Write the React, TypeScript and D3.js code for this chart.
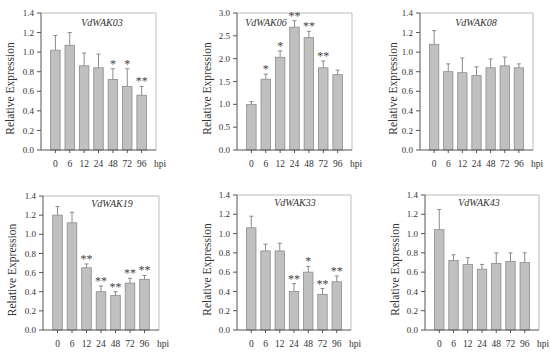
import React from 'react';
import * as d3 from 'd3';

const hpi = ['0', '6', '12', '24', '48', '72', '96'];

const genes = ['VdWAK03', 'VdWAK06', 'VdWAK08', 'VdWAK19', 'VdWAK33', 'VdWAK43'];

const wak03 = [1.02, 1.07, 0.86, 0.84, 0.72, 0.65, 0.56];
const wak03Err = [0.15, 0.13, 0.13, 0.14, 0.11, 0.18, 0.09];
const wak03Sig = ['', '', '', '', '*', '*', '**'];

const wak06 = [1.0, 1.55, 2.03, 2.69, 2.46, 1.8, 1.65];
const wak06Err = [0.06, 0.11, 0.14, 0.14, 0.14, 0.15, 0.1];
const wak06Sig = ['', '*', '*', '**', '**', '**', ''];

const wak08 = [1.08, 0.8, 0.79, 0.76, 0.84, 0.86, 0.84];
const wak08Err = [0.14, 0.08, 0.15, 0.09, 0.09, 0.09, 0.04];
const wak08Sig = ['', '', '', '', '', '', ''];

const wak19 = [1.2, 1.12, 0.65, 0.4, 0.36, 0.49, 0.53];
const wak19Err = [0.09, 0.11, 0.04, 0.06, 0.04, 0.05, 0.04];
const wak19Sig = ['', '', '**', '**', '**', '**', '**'];

const wak33 = [1.06, 0.82, 0.82, 0.4, 0.6, 0.37, 0.5];
const wak33Err = [0.12, 0.07, 0.08, 0.08, 0.06, 0.06, 0.06];
const wak33Sig = ['', '', '', '**', '*', '**', '**'];

const wak43 = [1.04, 0.72, 0.68, 0.63, 0.69, 0.71, 0.7];
const wak43Err = [0.21, 0.06, 0.07, 0.05, 0.11, 0.09, 0.1];
const wak43Sig = ['', '', '', '', '', '', ''];

const yTicksLow = [0, 0.2, 0.4, 0.6, 0.8, 1.0, 1.2, 1.4];
const yTicksHigh = [0, 0.5, 1.0, 1.5, 2.0, 2.5, 3.0];

const values = [wak03, wak06, wak08, wak19, wak33, wak43];
const errors = [wak03Err, wak06Err, wak08Err, wak19Err, wak33Err, wak43Err];
const sigs = [wak03Sig, wak06Sig, wak08Sig, wak19Sig, wak33Sig, wak43Sig];
const yMax = [1.4, 3.0, 1.4, 1.4, 1.4, 1.4];

// panel frames: plot box, y-label x, title centre
const frames = [
  { l: 41, r: 156, t: 13, b: 150, labX: 10, tx: 102, ty: 26 },
  { l: 237, r: 352, t: 13, b: 150, labX: 207, tx: 266, ty: 26 },
  { l: 420, r: 533, t: 13, b: 150, labX: 393, tx: 476, ty: 26 },
  { l: 43, r: 159, t: 196, b: 330, labX: 12, tx: 112, ty: 207 },
  { l: 237, r: 351, t: 195, b: 330, labX: 207, tx: 295, ty: 206 },
  { l: 425, r: 539, t: 195, b: 330, labX: 395, tx: 479, ty: 206 },
];

const font = "'Liberation Serif', 'Times New Roman', 'DejaVu Serif', serif";
const textColor = '#333';

const Panel = ({ idx }: { idx: number }) => {
  const f = frames[idx];
  const vals = values[idx];
  const errs = errors[idx];
  const sig = sigs[idx];
  const ticks = yMax[idx] > 2 ? yTicksHigh : yTicksLow;

  const x = d3.scalePoint<string>().domain(hpi).range([f.l, f.r]).padding(1);
  const y = d3.scaleLinear().domain([0, yMax[idx]]).range([f.b, f.t]);
  const bw = x.step() * 0.66;

  return (
    <g style={{ fontFamily: font }}>
      {/* frame top/right */}
      <path d={`M${f.l},${f.t}H${f.r}V${f.b}`} fill="none" stroke="#bdbdbd" strokeWidth={1} />
      {vals.map((v, i) => {
        const cx = x(hpi[i])!;
        const top = y(v + errs[i]);
        return (
          <g key={i}>
            <line x1={cx} x2={cx} y1={y(v)} y2={top} stroke="#8a8a8a" strokeWidth={1} />
            <line x1={cx - 2} x2={cx + 2} y1={top} y2={top} stroke="#8a8a8a" strokeWidth={1} />
            <rect x={cx - bw / 2} y={y(v)} width={bw} height={f.b - y(v)}
              fill="#c0c0c0" stroke="#8c8c8c" strokeWidth={0.8} />
            {sig[i] && (
              <text x={cx} y={top - 1} textAnchor="middle"
                fontSize={12} fill="#444">{sig[i]}</text>
            )}
          </g>
        );
      })}
      {/* y axis */}
      <line x1={f.l} x2={f.l} y1={f.t} y2={f.b} stroke="#555" strokeWidth={1} />
      {ticks.map(t => (
        <g key={t}>
          <line x1={f.l - 4} x2={f.l} y1={y(t)} y2={y(t)} stroke="#555" strokeWidth={1} />
          <text x={f.l - 7} y={y(t)} dy="0.35em" textAnchor="end"
            fontSize={9} fill={textColor}>{t.toFixed(1)}</text>
        </g>
      ))}
      {/* x axis */}
      <line x1={f.l} x2={f.r} y1={f.b} y2={f.b} stroke="#555" strokeWidth={1} />
      {hpi.map(h => (
        <g key={h}>
          <line x1={x(h)} x2={x(h)} y1={f.b} y2={f.b + 3} stroke="#555" strokeWidth={1} />
          <text x={x(h)} y={f.b + 17} textAnchor="middle"
            fontSize={9.5} fill={textColor}>{h}</text>
        </g>
      ))}
      <text x={f.r - 2} y={f.b + 17} fontSize={9.5} fill={textColor}>hpi</text>
      <text transform={`translate(${f.labX},${(f.t + f.b) / 2 + 7}) rotate(-90)`}
        textAnchor="middle" dominantBaseline="central"
        fontSize={11.5} fill={textColor}>Relative Expression</text>
      <text x={f.tx} y={f.ty} textAnchor="middle" fontStyle="italic"
        fontSize={10} fill={textColor}>{genes[idx]}</text>
    </g>
  );
};

export default function App() {
  return (
    <svg width={550} height={353} style={{ position: 'absolute', left: 0, top: 0, background: '#fff' }}>
      {genes.map((g, i) => <Panel key={g} idx={i} />)}
    </svg>
  );
}
